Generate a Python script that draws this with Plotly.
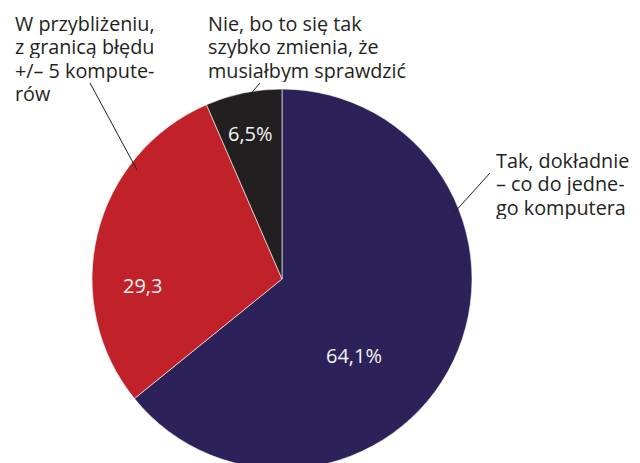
import plotly.graph_objects as go

categories = ["Tak, dokładnie – co do jednego komputera",
              "W przybliżeniu, z granicą błędu +/– 5 komputerów",
              "Nie, bo to się tak szybko zmienia, że musiałbym sprawdzić"]
values = [64.1, 29.3, 6.5]
value_labels = ["64,1%", "29,3", "6,5%"]
label_lines = [
    ["Tak, dokładnie", "– co do jedne-", "go komputera"],
    ["W przybliżeniu,", "z granicą błędu", "+/– 5 kompute-", "rów"],
    ["Nie, bo to się tak", "szybko zmienia, że", "musiałbym sprawdzić"],
]
colors = ["#2c2259", "#c1222a", "#231f20"]

# page offset caused by default body margin
OFF = 8
W, H = 640, 480
cx, cy, r = 282 - OFF, 279 - OFF, 190

fig = go.Figure(go.Pie(
    labels=categories, values=values, text=value_labels,
    textinfo="none",
    marker=dict(colors=colors, line=dict(color="#ffffff", width=0.6)),
    sort=False, direction="clockwise", rotation=0, showlegend=False,
    hoverinfo="label+text",
    domain=dict(x=[(cx - r) / W, (cx + r) / W], y=[(H - cy - r) / H, (H - cy + r) / H]),
))

# layout positions (page px): inner value labels centres, outer label left x / first baseline
inner_pos = [(354, 355), (142, 285), (250, 134)]
outer_pos = [(495, 167), (14, 30), (207, 30)]
line_step = 23.6

def px(x, y):
    return (x - OFF) / W, 1 - (y - OFF) / H

annotations = []
for lab, (x, y) in zip(value_labels, inner_pos):
    ax_, ay_ = px(x, y)
    annotations.append(dict(text=lab, x=ax_, y=ay_, xref="paper", yref="paper",
                            xanchor="center", yanchor="middle", showarrow=False,
                            font=dict(family="Open Sans", size=20, color="#f4f4f4")))
tf = dict(family="Open Sans", size=19.8, color="#231f20")
for lines_, (x, y) in zip(label_lines, outer_pos):
    for i, t in enumerate(lines_):
        ax_, ay_ = px(x - 1, y + i * line_step - 7)
        annotations.append(dict(text=t, x=ax_, y=ay_, xref="paper", yref="paper", height=23,
                                xanchor="left", yanchor="middle", align="left", valign="middle",
                                showarrow=False, font=tf))

lines = [((90, 83), (137, 170)), ((260, 83), (248, 97)), ((490, 173), (452, 215))]
shapes = []
for a, b in lines:
    x0, y0 = px(*a)
    x1, y1 = px(*b)
    shapes.append(dict(type="line", xref="paper", yref="paper", x0=x0, y0=y0, x1=x1, y1=y1,
                       line=dict(color="#231f20", width=1)))

fig.update_layout(width=W, height=H, margin=dict(l=0, r=0, t=0, b=0),
                  paper_bgcolor="white", plot_bgcolor="white",
                  annotations=annotations, shapes=shapes)
fig.write_html("out.html")
